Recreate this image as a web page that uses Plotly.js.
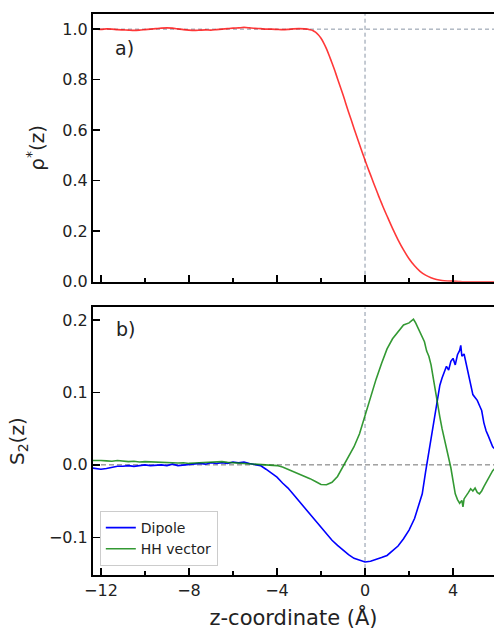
<!DOCTYPE html>
<html>
<head>
<meta charset="utf-8">
<script src="https://cdn.plot.ly/plotly-3.0.1.min.js"></script>
<style>html,body{margin:0;padding:0;background:#fff;} #chart{width:494px;height:630px;}</style>
</head>
<body>
<div id="chart"></div>
<script>
// ---- Data ----
const rhoZ = [-12.5,-12.25,-12.0,-11.75,-11.5,-11.25,-11.0,-10.75,-10.5,-10.25,-10.0,-9.75,-9.5,-9.25,-9.0,-8.75,-8.5,-8.25,-8.0,-7.75,-7.5,-7.25,-7.0,-6.75,-6.5,-6.25,-6.0,-5.75,-5.5,-5.25,-5.0,-4.75,-4.5,-4.25,-4.0,-3.75,-3.5,-3.25,-3.0,-2.75,-2.5,-2.375,-2.25,-2.125,-2.0,-1.875,-1.75,-1.625,-1.5,-1.375,-1.25,-1.125,-1.0,-0.875,-0.75,-0.625,-0.5,-0.375,-0.25,-0.125,0.0,0.125,0.25,0.375,0.5,0.625,0.75,0.875,1.0,1.25,1.5,1.75,2.0,2.25,2.5,2.75,3.0,3.25,3.5,3.75,4.0,4.25,4.5,5.0,5.5,6.0];
const rho = [1.000,1.001,0.999,1.001,1.000,0.998,0.997,0.996,0.995,0.996,0.998,1.000,1.002,1.004,1.005,1.004,1.001,0.998,0.996,0.995,0.996,0.997,0.996,0.998,1.000,1.002,1.004,1.005,1.007,1.005,1.003,1.002,1.000,1.000,0.999,0.998,0.999,1.001,1.002,1.001,0.998,0.995,0.988,0.978,0.964,0.945,0.922,0.895,0.866,0.836,0.804,0.772,0.740,0.706,0.672,0.640,0.607,0.575,0.543,0.512,0.481,0.451,0.423,0.394,0.366,0.338,0.311,0.285,0.260,0.211,0.166,0.126,0.091,0.063,0.041,0.026,0.016,0.009,0.005,0.003,0.002,0.001,0.000,0.000,0.000,0.000];

const dipZ = [-12.5,-12.25,-12.0,-11.75,-11.5,-11.25,-11.0,-10.75,-10.5,-10.25,-10.0,-9.75,-9.5,-9.25,-9.0,-8.75,-8.5,-8.25,-8.0,-7.75,-7.5,-7.25,-7.0,-6.75,-6.5,-6.25,-6.0,-5.75,-5.5,-5.25,-5.0,-4.75,-4.5,-4.25,-4.0,-3.75,-3.5,-3.25,-3.0,-2.75,-2.5,-2.25,-2.0,-1.75,-1.5,-1.25,-1.0,-0.75,-0.5,-0.25,0.0,0.25,0.5,0.75,1.0,1.25,1.5,1.75,2.0,2.25,2.5,2.6,2.75,3.0,3.1,3.25,3.4,3.5,3.6,3.7,3.8,3.9,4.0,4.1,4.2,4.3,4.35,4.4,4.5,4.6,4.7,4.8,4.9,5.0,5.1,5.2,5.3,5.4,5.5,5.6,5.7,5.8,5.9];
const dipole = [-0.004,-0.005,-0.006,-0.005,-0.003,-0.002,-0.002,-0.001,-0.002,-0.001,0.000,-0.001,0.000,0.000,-0.001,0.001,-0.001,0.000,0.001,0.001,0.002,0.001,0.003,0.002,0.003,0.002,0.004,0.003,0.004,0.002,0.001,-0.001,-0.006,-0.011,-0.017,-0.025,-0.032,-0.041,-0.050,-0.059,-0.068,-0.077,-0.087,-0.096,-0.104,-0.111,-0.118,-0.124,-0.129,-0.132,-0.134,-0.133,-0.131,-0.128,-0.125,-0.119,-0.112,-0.102,-0.090,-0.074,-0.050,-0.040,-0.010,0.035,0.050,0.080,0.110,0.120,0.128,0.136,0.131,0.143,0.147,0.138,0.152,0.158,0.165,0.150,0.153,0.138,0.122,0.110,0.097,0.093,0.089,0.082,0.075,0.058,0.047,0.040,0.033,0.025,0.022];

const hhZ = [-12.5,-12.25,-12.0,-11.75,-11.5,-11.25,-11.0,-10.75,-10.5,-10.25,-10.0,-9.75,-9.5,-9.25,-9.0,-8.75,-8.5,-8.25,-8.0,-7.75,-7.5,-7.25,-7.0,-6.75,-6.5,-6.25,-6.0,-5.75,-5.5,-5.25,-5.0,-4.75,-4.5,-4.25,-4.0,-3.75,-3.5,-3.25,-3.0,-2.75,-2.5,-2.25,-2.0,-1.75,-1.5,-1.25,-1.0,-0.75,-0.5,-0.25,0.0,0.25,0.5,0.75,1.0,1.25,1.5,1.75,2.0,2.1,2.2,2.3,2.4,2.5,2.6,2.7,2.8,2.9,3.0,3.1,3.2,3.3,3.4,3.5,3.6,3.7,3.8,3.9,4.0,4.1,4.2,4.3,4.4,4.45,4.5,4.6,4.7,4.8,4.9,5.0,5.1,5.2,5.3,5.4,5.5,5.6,5.7,5.8,5.9];
const hhVector = [0.006,0.0065,0.006,0.0055,0.005,0.006,0.005,0.0045,0.005,0.004,0.0045,0.004,0.0035,0.004,0.0035,0.003,0.0025,0.003,0.002,0.0025,0.003,0.0035,0.003,0.004,0.0045,0.0035,0.003,0.0035,0.003,0.0025,0.002,0.0015,0.001,0.000,-0.001,-0.003,-0.006,-0.009,-0.012,-0.015,-0.019,-0.023,-0.027,-0.0275,-0.024,-0.016,-0.003,0.010,0.025,0.043,0.068,0.095,0.118,0.140,0.160,0.174,0.184,0.193,0.196,0.198,0.201,0.196,0.190,0.184,0.178,0.170,0.157,0.150,0.138,0.119,0.104,0.080,0.066,0.050,0.037,0.024,0.012,-0.004,-0.022,-0.040,-0.048,-0.053,-0.049,-0.058,-0.047,-0.043,-0.038,-0.033,-0.036,-0.032,-0.038,-0.040,-0.036,-0.030,-0.024,-0.018,-0.013,-0.008,-0.005];

const xTickVals = [-12,-8,-4,0,4];
const xTickText = ['\u221212','\u22128','\u22124','0','4'];

// ---- Plot ----
const FONT = 'DejaVu Sans, sans-serif';
const traces = [
  {x: rhoZ, y: rho, xaxis:'x2', yaxis:'y2', mode:'lines', line:{color:'rgba(255,0,0,0.78)', width:1.6, shape:'spline', smoothing:0.6}, showlegend:false},
  {x: dipZ, y: dipole, xaxis:'x', yaxis:'y', mode:'lines', name:'Dipole', line:{color:'#0000ff', width:1.6}},
  {x: hhZ, y: hhVector, xaxis:'x', yaxis:'y', mode:'lines', name:'HH vector', line:{color:'rgba(0,128,0,0.8)', width:1.6}}
];

const axCommon = {
  showline:true, linecolor:'#000', linewidth:2, ticks:'inside', ticklen:7, tickwidth:1.5, tickcolor:'#000',
  showgrid:false, zeroline:false, tickfont:{family:FONT, size:16, color:'#222'}
};
const xRange = [-12.36, 5.86];
const minorTicks = {tickmode:'array', tickvals:[-10,-6,-2,2], ticks:'inside', ticklen:4, tickwidth:1.5, tickcolor:'#000'};

const layout = {
  width:494, height:630,
  margin:{l:93, r:0, t:14, b:55},
  paper_bgcolor:'#fff', plot_bgcolor:'#fff',
  font:{family:FONT, color:'#222'},
  showlegend:true,
  legend:{x:0.017, y:0.016, xanchor:'left', yanchor:'bottom', bgcolor:'rgba(255,255,255,0.8)', bordercolor:'#cccccc', borderwidth:1, font:{family:FONT, size:14, color:'#222'}, itemwidth:30, tracegroupgap:0},
  xaxis: Object.assign({}, axCommon, {anchor:'y', domain:[0,1], range:xRange, tickmode:'array', tickvals:xTickVals, ticktext:xTickText, mirror:true,
    minor:minorTicks,
    title:{text:'z-coordinate (Å)', font:{family:FONT, size:21, color:'#222'}, standoff:14}}),
  xaxis2: Object.assign({}, axCommon, {anchor:'y2', domain:[0,1], range:xRange, matches:'x', tickmode:'array', tickvals:xTickVals, ticktext:xTickText, showticklabels:false, mirror:true,
    minor:minorTicks}),
  yaxis: Object.assign({}, axCommon, {anchor:'x', domain:[0,0.4772], range:[-0.152,0.2175], tickmode:'array', tickvals:[-0.1,0,0.1,0.2], ticktext:['\u22120.1','0.0','0.1','0.2'],
    title:{text:'S<sub>2</sub>(z)', font:{family:FONT, size:20, color:'#222'}, standoff:19}}),
  yaxis2: Object.assign({}, axCommon, {anchor:'x2', domain:[0.5228,1], range:[0,1.06], tickmode:'array', tickvals:[0,0.2,0.4,0.6,0.8,1.0], ticktext:['0.0','0.2','0.4','0.6','0.8','1.0'],
    title:{text:'ρ<sup>*</sup>(z)', font:{family:FONT, size:20, color:'#222'}, standoff:12}}),
  shapes:[
    {type:'line', xref:'x2 domain', yref:'y2', x0:0, x1:1, y0:1.0, y1:1.0, line:{color:'#8a96a6', width:1, dash:'4px,3px'}, layer:'below'},
    {type:'line', xref:'x2', yref:'y2 domain', x0:0, x1:0, y0:0, y1:1, line:{color:'#8a96a6', width:1, dash:'4px,3px'}, layer:'below'},
    {type:'line', xref:'x domain', yref:'y', x0:0, x1:1, y0:0, y1:0, line:{color:'#707070', width:1, dash:'5px,3px'}, layer:'below'},
    {type:'line', xref:'x', yref:'y domain', x0:0, x1:0, y0:0, y1:1, line:{color:'#8a96a6', width:1, dash:'4px,3px'}, layer:'below'}
  ],
  annotations:[
    {text:'a)', xref:'x2', yref:'y2', x:-10.95, y:0.925, showarrow:false, font:{family:FONT, size:19, color:'#222'}},
    {text:'b)', xref:'x', yref:'y', x:-10.9, y:0.188, showarrow:false, font:{family:FONT, size:19, color:'#222'}}
  ]
};

Plotly.newPlot('chart', traces, layout, {staticPlot:true, displayModeBar:false});
</script>
</body>
</html>
